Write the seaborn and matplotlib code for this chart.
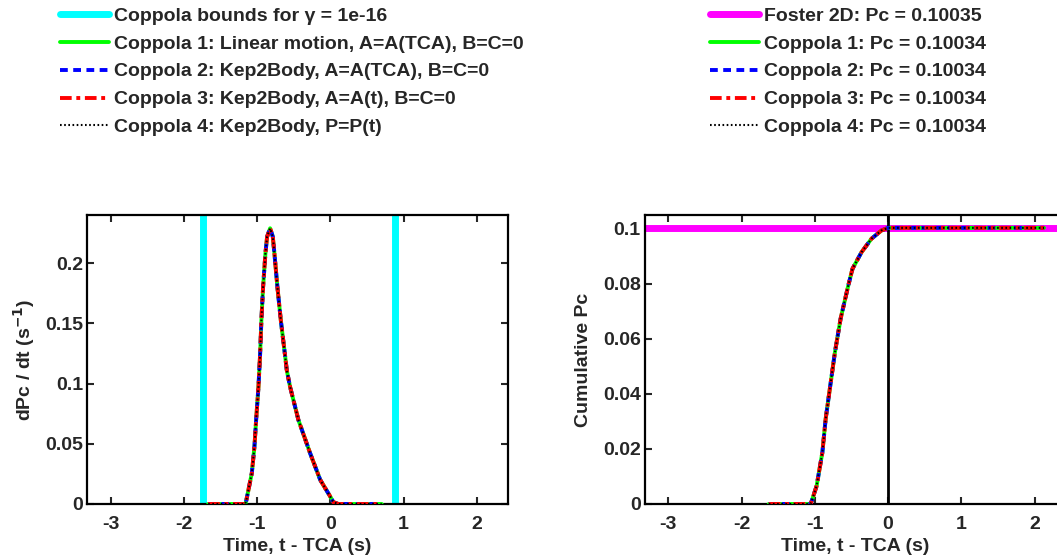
import numpy as np
import pandas as pd
import matplotlib
matplotlib.use("Agg")
import matplotlib.pyplot as plt
import seaborn as sns

# ---------------- data ----------------
t_rate = [-1.67, -1.165, -1.152, -1.074, -1.038, -1.015, -0.983, -0.96, -0.943, -0.92,
          -0.888, -0.865, -0.824, -0.787, -0.765, -0.724, -0.678, -0.623, -0.596, -0.551,
          -0.437, -0.277, -0.14, -0.004, 0.04, 0.11, 0.70]
rate = [0, 0, 0.002, 0.0255, 0.0476, 0.0697, 0.0973, 0.125, 0.1527, 0.18,
        0.208, 0.222, 0.229, 0.222, 0.208, 0.18, 0.1527, 0.125, 0.111, 0.0973,
        0.0697, 0.0421, 0.0201, 0.0063, 0.0015, 0.0, 0.0]

t_cum = [-1.63, -1.06, -1.043, -0.976, -0.898, -0.853, -0.79, -0.726, -0.649, -0.544,
         -0.486, -0.363, -0.227, -0.091, 0.0, 2.13]
cum = [0, 0, 0.0011, 0.0066, 0.0187, 0.0309, 0.043, 0.0552, 0.0673, 0.0794,
       0.0855, 0.0915, 0.0964, 0.0994, 0.10034, 0.10034]

coppola_bounds = [-1.735, 0.884]
gamma_label = "1e-16"
foster_pc = 0.10035
coppola_pc = [0.10034, 0.10034, 0.10034, 0.10034]

method_names = ["Coppola 1: Linear motion, A=A(TCA), B=C=0",
                "Coppola 2: Kep2Body, A=A(TCA), B=C=0",
                "Coppola 3: Kep2Body, A=A(t), B=C=0",
                "Coppola 4: Kep2Body, P=P(t)"]

left_yticks = [0, 0.05, 0.1, 0.15, 0.2]
left_yticklabels = ["0", "0.05", "0.1", "0.15", "0.2"]
right_yticks = [0, 0.02, 0.04, 0.06, 0.08, 0.1]
right_yticklabels = ["0", "0.02", "0.04", "0.06", "0.08", "0.1"]
xticks = [-3, -2, -1, 0, 1, 2]

# ---------------- style ----------------
sns.set_theme(style="ticks")
plt.rcParams["font.family"] = ["Liberation Sans", "DejaVu Sans"]
plt.rcParams["font.weight"] = "bold"
plt.rcParams["axes.labelweight"] = "bold"
plt.rcParams["mathtext.default"] = "bf"

FS = 14

styles = [dict(color="#00ff00", linestyle="-", linewidth=2.8),
          dict(color="#0000ff", linestyle=(0, (2.0, 1.4)), linewidth=2.8),
          dict(color="#ff0000", linestyle=(0, (3, 1.2, 1, 1.2)), linewidth=2.8),
          dict(color="black", linestyle=(0, (0.8, 1.2)), linewidth=1.5)]

fig = plt.figure(figsize=(10.57, 5.60), dpi=100)
ax1 = fig.add_axes([0.0826, 0.10, 0.3977, 0.516])
ax2 = fig.add_axes([0.6102, 0.10, 0.3977, 0.516])

df_rate = pd.DataFrame({"t": t_rate, "v": rate})
df_cum = pd.DataFrame({"t": t_cum, "v": cum})

# left panel
h_bounds = None
for b in coppola_bounds:
    h_bounds = ax1.axvline(b, color="#00ffff", linewidth=5, zorder=1)
left_handles = [h_bounds]
for st in styles:
    sns.lineplot(data=df_rate, x="t", y="v", ax=ax1, legend=False, zorder=3, **st)
    left_handles.append(ax1.lines[-1])

# right panel
h_foster = ax2.axhline(foster_pc, color="#ff00ff", linewidth=5, zorder=1)
ax2.axvline(0, color="black", linewidth=2, zorder=2)
right_handles = [h_foster]
for st in styles:
    sns.lineplot(data=df_cum, x="t", y="v", ax=ax2, legend=False, zorder=3, **st)
    right_handles.append(ax2.lines[-1])

for ax in (ax1, ax2):
    ax.set_xlim(-3.32, 2.42)
    ax.set_xticks(xticks)
    ax.set_xticklabels([str(x) for x in xticks])
    ax.tick_params(direction="in", top=True, right=True, length=5, width=1.5,
                   labelsize=FS)
    ax.tick_params(axis="x", pad=8.5)
    ax.tick_params(axis="y", pad=3)
    for sp in ax.spines.values():
        sp.set_linewidth(1.6)
        sp.set_color("black")
    for lbl in ax.get_xticklabels() + ax.get_yticklabels():
        lbl.set_fontweight("bold")
    ax.set_xlabel("Time, t - TCA (s)", fontsize=FS, fontweight="bold", labelpad=4)

ax1.set_ylim(0, 0.24)
ax1.set_yticks(left_yticks)
ax1.set_yticklabels(left_yticklabels, fontweight="bold")
ax1.set_ylabel("dPc / dt (s$^{-1}$)", fontsize=FS, fontweight="bold", labelpad=6)

ax2.set_ylim(0, 0.105)
ax2.set_yticks(right_yticks)
ax2.set_yticklabels(right_yticklabels, fontweight="bold")
ax2.set_ylabel("Cumulative Pc", fontsize=FS, fontweight="bold", labelpad=8)

left_labels = [f"Coppola bounds for γ = {gamma_label}"] + method_names
right_labels = [f"Foster 2D: Pc = {foster_pc:.5f}"] + \
               [f"Coppola {i+1}: Pc = {p:.5f}" for i, p in enumerate(coppola_pc)]

leg_kw = dict(loc="upper left", frameon=False, handlelength=2.5, handletextpad=0.3,
              labelspacing=0.53, borderpad=0, borderaxespad=0,
              prop=dict(family="Liberation Sans", weight="bold", size=FS))
fig.legend(left_handles, left_labels, bbox_to_anchor=(60 / 1057, 1 - 7 / 560), **leg_kw)
fig.legend(right_handles, right_labels, bbox_to_anchor=(710 / 1057, 1 - 7 / 560), **leg_kw)

fig.savefig("out.png", dpi=100)
